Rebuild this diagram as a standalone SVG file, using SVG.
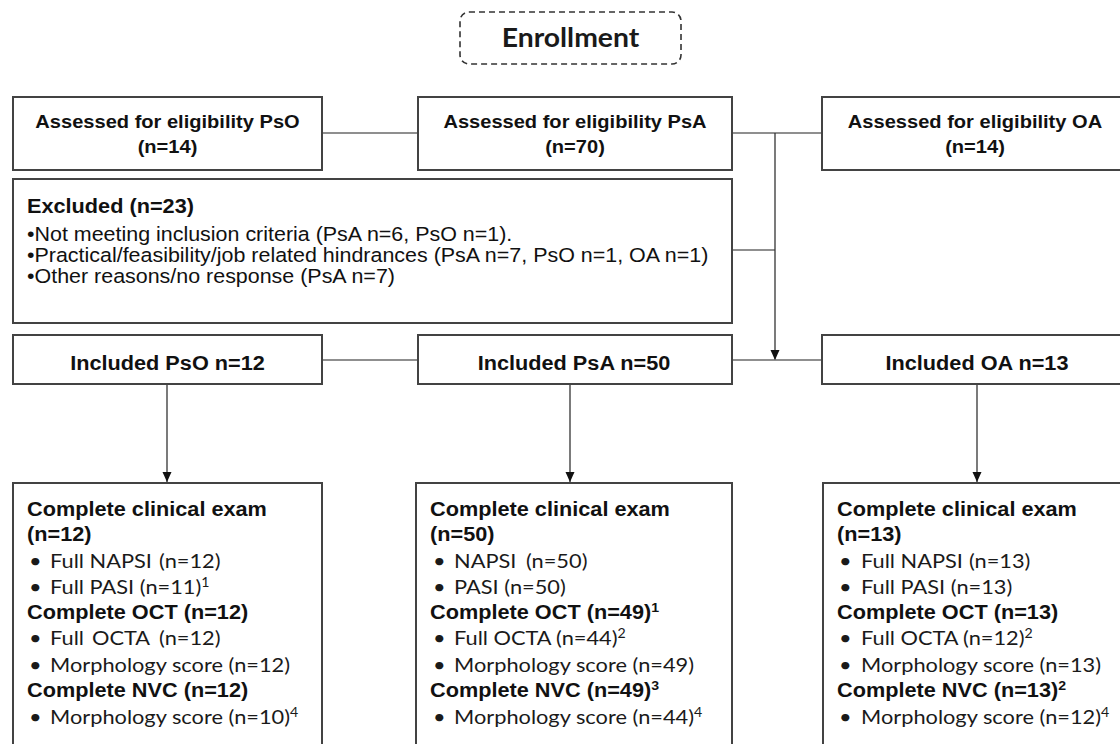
<svg xmlns="http://www.w3.org/2000/svg" width="1120" height="744" viewBox="0 0 1120 744">
<defs>
<style>
.box{fill:#fff;stroke:#434343;stroke-width:2}
.dash{fill:#fff;stroke:#333;stroke-width:1.6;stroke-dasharray:6 4}
.conn{fill:none;stroke:#6a6a6a;stroke-width:1.5}
.arr{fill:none;stroke:#333;stroke-width:1.3;marker-end:url(#ah)}
.b{font-family:"Liberation Sans",Arial,sans-serif;font-weight:bold;fill:#111}
.r{font-family:"Liberation Sans",Arial,sans-serif;fill:#111}
.c{font-family:Lato,"Open Sans",sans-serif;fill:#1a1a1a;font-size:20px}
.m{text-anchor:middle}
.a{font-size:18.5px}
.h{font-size:20px}
.rr{font-size:19.5px}
.sup{font-size:13px}
</style>
<marker id="ah" viewBox="0 0 10 10" refX="10" refY="5" markerWidth="10" markerHeight="10" orient="auto" markerUnits="userSpaceOnUse">
<path d="M0,0.5 L10,5 L0,9.5 z" fill="#111"/>
</marker>
</defs>
<rect width="1120" height="744" fill="#fff"/>

<g id="connectors">
<line class="conn" x1="322" y1="133" x2="418" y2="133"/>
<line class="conn" x1="732" y1="133" x2="822" y2="133"/>
<line class="conn" x1="732" y1="250" x2="775" y2="250"/>
<line class="arr" x1="775" y1="133" x2="775" y2="360"/>
<line class="conn" x1="322" y1="360" x2="418" y2="360"/>
<line class="conn" x1="732" y1="360" x2="822" y2="360"/>
<line class="arr" x1="167" y1="384" x2="167" y2="482"/>
<line class="arr" x1="570" y1="384" x2="570" y2="482"/>
<line class="arr" x1="977" y1="384" x2="977" y2="482"/>
</g>

<g id="enrollment">
<rect class="dash" x="460" y="12" width="221" height="52" rx="9"/>
<text class="c m" style="font-weight:bold;font-size:26px" transform="translate(570.5,47) scale(1.09,1)">Enrollment</text>
</g>

<g id="assessed-pso">
<rect class="box" x="13" y="97" width="309" height="73"/>
<text class="b m a" transform="translate(167.5,128) scale(1.085,1)">Assessed for eligibility PsO</text>
<text class="b m a" transform="translate(167.5,153) scale(1.085,1)">(n=14)</text>
</g>

<g id="assessed-psa">
<rect class="box" x="418" y="97" width="314" height="73"/>
<text class="b m a" transform="translate(575,128) scale(1.085,1)">Assessed for eligibility PsA</text>
<text class="b m a" transform="translate(575,153) scale(1.085,1)">(n=70)</text>
</g>

<g id="assessed-oa">
<rect class="box" x="822" y="97" width="310" height="73"/>
<text class="b m a" transform="translate(975,128) scale(1.085,1)">Assessed for eligibility OA</text>
<text class="b m a" transform="translate(975,153) scale(1.085,1)">(n=14)</text>
</g>

<g id="excluded">
<rect class="box" x="13" y="179" width="719" height="144"/>
<text class="b h" transform="translate(27,213) scale(1.085,1)">Excluded (n=23)</text>
<text class="r rr" transform="translate(27,241) scale(1.1,1)">•Not meeting inclusion criteria (PsA n=6, PsO n=1).</text>
<text class="r rr" transform="translate(27,262) scale(1.1,1)">•Practical/feasibility/job related hindrances (PsA n=7, PsO n=1, OA n=1)</text>
<text class="r rr" transform="translate(27,283) scale(1.1,1)">•Other reasons/no response (PsA n=7)</text>
</g>

<g id="included-pso">
<rect class="box" x="13" y="335" width="309" height="49"/>
<text class="b m h" transform="translate(167.5,370) scale(1.085,1)">Included PsO n=12</text>
</g>

<g id="included-psa">
<rect class="box" x="418" y="335" width="314" height="49"/>
<text class="b m h" transform="translate(574,370) scale(1.085,1)">Included PsA n=50</text>
</g>

<g id="included-oa">
<rect class="box" x="822" y="335" width="310" height="49"/>
<text class="b m h" transform="translate(977,370) scale(1.085,1)">Included OA n=13</text>
</g>

<g id="complete-pso">
<rect class="box" x="13" y="483" width="309" height="280"/>
<text class="b h" transform="translate(27,516) scale(1.085,1)">Complete clinical exam</text>
<text class="b h" transform="translate(27,541) scale(1.085,1)">(n=12)</text>
<text class="c" transform="translate(29,568) scale(1.09,1)">•</text>
<text class="c" transform="translate(50,568) scale(1.09,1)">Full NAPSI<tspan x="100">(n=12)</tspan></text>
<text class="c" transform="translate(29,594) scale(1.09,1)">•</text>
<text class="c" transform="translate(50,594) scale(1.09,1)">Full PASI (n=11)<tspan class="sup" dy="-7">1</tspan></text>
<text class="b h" transform="translate(27,619) scale(1.085,1)">Complete OCT (n=12)</text>
<text class="c" transform="translate(29,645) scale(1.09,1)">•</text>
<text class="c" transform="translate(50,645) scale(1.09,1)">Full<tspan x="38.5">OCTA</tspan><tspan x="100">(n=12)</tspan></text>
<text class="c" transform="translate(29,672) scale(1.09,1)">•</text>
<text class="c" transform="translate(50,672) scale(1.09,1)">Morphology score (n=12)</text>
<text class="b h" transform="translate(27,697) scale(1.085,1)">Complete NVC (n=12)</text>
<text class="c" transform="translate(29,724) scale(1.09,1)">•</text>
<text class="c" transform="translate(50,724) scale(1.09,1)">Morphology score (n=10)<tspan class="sup" dy="-7">4</tspan></text>
</g>

<g id="complete-psa">
<rect class="box" x="416" y="483" width="316" height="280"/>
<text class="b h" transform="translate(430,516) scale(1.085,1)">Complete clinical exam</text>
<text class="b h" transform="translate(430,541) scale(1.085,1)">(n=50)</text>
<text class="c" transform="translate(433,568) scale(1.09,1)">•</text>
<text class="c" transform="translate(454,568) scale(1.09,1)">NAPSI<tspan x="66">(n=50)</tspan></text>
<text class="c" transform="translate(433,594) scale(1.09,1)">•</text>
<text class="c" transform="translate(454,594) scale(1.09,1)">PASI (n=50)</text>
<text class="b h" transform="translate(430,619) scale(1.085,1)">Complete OCT (n=49)<tspan class="sup" dy="-7">1</tspan></text>
<text class="c" transform="translate(433,645) scale(1.09,1)">•</text>
<text class="c" transform="translate(454,645) scale(1.09,1)">Full OCTA<tspan x="93.6">(n=44)</tspan><tspan class="sup" dy="-7">2</tspan></text>
<text class="c" transform="translate(433,672) scale(1.09,1)">•</text>
<text class="c" transform="translate(454,672) scale(1.09,1)">Morphology score (n=49)</text>
<text class="b h" transform="translate(430,697) scale(1.085,1)">Complete NVC (n=49)<tspan class="sup" dy="-7">3</tspan></text>
<text class="c" transform="translate(433,724) scale(1.09,1)">•</text>
<text class="c" transform="translate(454,724) scale(1.09,1)">Morphology score (n=44)<tspan class="sup" dy="-7">4</tspan></text>
</g>

<g id="complete-oa">
<rect class="box" x="823" y="483" width="310" height="280"/>
<text class="b h" transform="translate(837,516) scale(1.085,1)">Complete clinical exam</text>
<text class="b h" transform="translate(837,541) scale(1.085,1)">(n=13)</text>
<text class="c" transform="translate(839,568) scale(1.09,1)">•</text>
<text class="c" transform="translate(861,568) scale(1.09,1)">Full NAPSI<tspan x="99">(n=13)</tspan></text>
<text class="c" transform="translate(839,594) scale(1.09,1)">•</text>
<text class="c" transform="translate(861,594) scale(1.09,1)">Full PASI (n=13)</text>
<text class="b h" transform="translate(837,619) scale(1.085,1)">Complete OCT (n=13)</text>
<text class="c" transform="translate(839,645) scale(1.09,1)">•</text>
<text class="c" transform="translate(861,645) scale(1.09,1)">Full OCTA<tspan x="93.6">(n=12)</tspan><tspan class="sup" dy="-7">2</tspan></text>
<text class="c" transform="translate(839,672) scale(1.09,1)">•</text>
<text class="c" transform="translate(861,672) scale(1.09,1)">Morphology score (n=13)</text>
<text class="b h" transform="translate(837,697) scale(1.085,1)">Complete NVC (n=13)<tspan class="sup" dy="-7">2</tspan></text>
<text class="c" transform="translate(839,724) scale(1.09,1)">•</text>
<text class="c" transform="translate(861,724) scale(1.09,1)">Morphology score (n=12)<tspan class="sup" dy="-7">4</tspan></text>
</g>
</svg>
